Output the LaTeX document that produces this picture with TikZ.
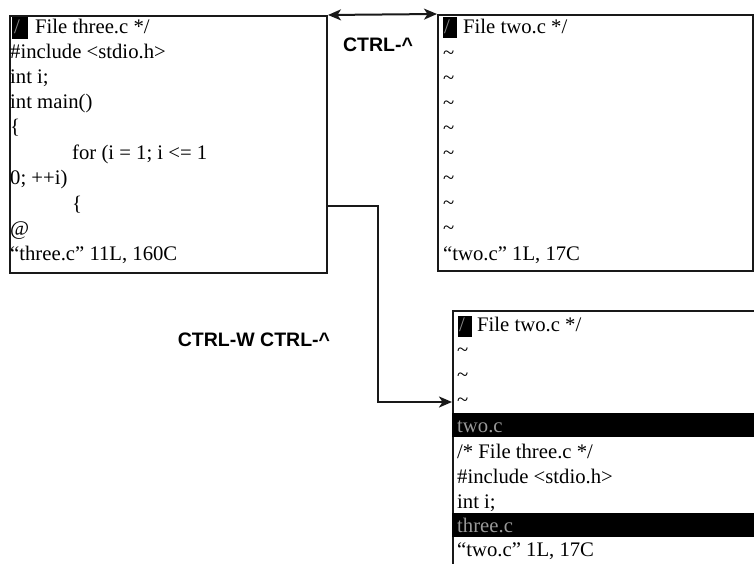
\documentclass[tikz,border=0pt]{standalone}
\usepackage{fontspec}
\setmainfont{Liberation Serif}
\newfontfamily\labfont{Liberation Sans}
\usetikzlibrary{arrows.meta}
\begin{document}
\begin{tikzpicture}[x=1pt,y=-1pt,
  box/.style={draw=black!90,line width=2pt,rectangle,inner sep=0pt,anchor=north west},
  txt/.style={anchor=base west,inner sep=0pt,font=\fontsize{20.7}{25}\selectfont},
  bartxt/.style={txt,text=black!40},
  cur/.style={fill=black},
  bar/.style={fill=black},
  lab/.style={font=\labfont\bfseries\fontsize{19.5}{22}\selectfont,inner sep=0pt},
  tip/.style={arrows={-Stealth[length=13pt,width=11pt,inset=3.5pt]}},
  arr/.style={line width=2pt,draw=black!90,-{Stealth[length=13pt,width=11pt,inset=3.5pt]}},
  darr/.style={line width=2pt,draw=black!90,{Stealth[length=13pt,width=11pt,inset=3.5pt]}-{Stealth[length=13pt,width=11pt,inset=3.5pt]}}
]
\useasboundingbox (0,0) rectangle (754,564);
\clip (0,0) rectangle (754,564);
\fill[white] (0,0) rectangle (754,564);

% boxes
\node[box,minimum width=317pt,minimum height=257pt] (b1) at (9,15) {};
\node[box,minimum width=315pt,minimum height=256pt] (b2) at (437,14) {};
\node[box,minimum width=320pt,minimum height=280pt] (b3) at (452,310) {};

% box 1 text
\fill[cur] (12,17) rectangle (28,39);
\node[txt,text=black!45] (c1) at (14,34) {/};
\node[txt] (t10) at (35,34) {File three.c */};
\node[txt] (t11) at (10,59) {\#include <stdio.h>};
\node[txt] (t12) at (10,84) {int i;};
\node[txt] (t13) at (10,109) {int main()};
\node[txt] (t14) at (10,134) {\{};
\node[txt] (t15) at (72,160) {for (i = 1; i <= 1};
\node[txt] (t16) at (10,185) {0; ++i)};
\node[txt] (t17) at (72,210) {\{};
\node[txt] (t18) at (10,235) {@};
\node[txt] (t19) at (10,260) {“three.c” 11L, 160C};

% box 2 text
\fill[cur] (443,17) rectangle (457,38);
\node[txt,text=black!45] (c2) at (444,34) {/};
\node[txt] (u0) at (463,34) {File two.c */};
\foreach \i in {1,...,8} {
  \node[txt] (u\i) at (443,{34+25.1*\i}) {\char"7E};
}
\node[txt] (u9) at (443,260) {“two.c” 1L, 17C};

% box 3 text
\fill[cur] (458,316) rectangle (472,337);
\node[txt,text=black!45] (c3) at (459,331) {/};
\node[txt] (v0) at (477,331) {File two.c */};
\node[txt] (v1) at (457,356) {\char"7E};
\node[txt] (v2) at (457,381) {\char"7E};
\node[txt] (v3) at (457,406) {\char"7E};
\fill[bar] (452,413) rectangle (754,437);
\node[bartxt] (v4) at (457,432) {two.c};
\node[txt] (v5) at (457,458) {/* File three.c */};
\node[txt] (v6) at (457,483) {\#include <stdio.h>};
\node[txt] (v7) at (457,508) {int i;};
\fill[bar] (452,513) rectangle (754,537);
\node[bartxt] (v8) at (457,532) {three.c};
\node[txt] (v9) at (457,556) {“two.c” 1L, 17C};

% labels
\node[lab] (l1) at (378,45) {CTRL-\textasciicircum};
\node[lab] (l2) at (254,340) {CTRL-W CTRL-\textasciicircum};

% connectors
\draw[darr] (b1.north east) -- (b2.north west);
\coordinate (k1) at (378,206);
\coordinate (k2) at (378,402);
\draw[arr] (b1.east |- k1) -- (k1) -- (k2) -- (b3.west |- k2);
\end{tikzpicture}
\end{document}
